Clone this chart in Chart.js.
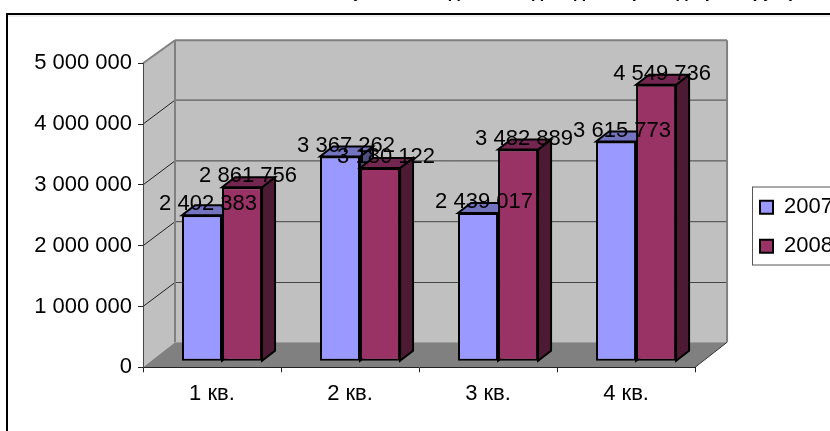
<!DOCTYPE html>
<html lang="ru">
<head>
<meta charset="utf-8">
<title>Chart</title>
<style>
    html, body { margin: 0; padding: 0; width: 830px; height: 431px; overflow: hidden; background: #fff; }
    #wrap { position: absolute; left: 0; top: -20px; }
</style>
</head>
<body>
<div id="wrap"><canvas id="chart" width="880" height="480"></canvas></div>
<script src="https://cdn.jsdelivr.net/npm/chart.js@4/dist/chart.umd.js"></script>
<script>
const categories = ['1 кв.', '2 кв.', '3 кв.', '4 кв.'];
const values2007 = [2402383, 3367262, 2439017, 3615773];
const values2008 = [2861756, 3180122, 3482889, 4549736];
const yTicksMax = 5000000;
const yTicksStep = 1000000;
// the title is cut off by the picture edge, only its descenders show: the wording is a guess
const titleText = 'Показатели налоговых выплат МСБ и сумма всех долгов и доходы бюро года (тыс. руб.)';

const FONT = 'Arial, "Liberation Sans", sans-serif';
const WALL = '#c0c0c0';
const FLOOR = '#808080';
const faces = [
    { top: '#7373bf', side: '#4d4d80' },
    { top: '#732650', side: '#4d1a33' }
];
// the wall depth and where the bars stand inside it, px
const DEPTH = { x: 32, y: 25 };
const BAR_SHIFT = { x: 10, y: 6 };
const BAR_DEPTH = { x: 13, y: 10 };

const fmt = (v) => String(v).replace(/\B(?=(\d{3})+$)/g, ' ');

function poly(ctx, pts, fill, stroke, width) {
    ctx.beginPath();
    pts.forEach((p, i) => (i ? ctx.lineTo(p[0], p[1]) : ctx.moveTo(p[0], p[1])));
    ctx.closePath();
    if (fill) { ctx.fillStyle = fill; ctx.fill(); }
    if (stroke) { ctx.strokeStyle = stroke; ctx.lineWidth = width; ctx.lineJoin = 'miter'; ctx.stroke(); }
}

function line(ctx, x1, y1, x2, y2, color, width) {
    ctx.beginPath();
    ctx.moveTo(x1, y1);
    ctx.lineTo(x2, y2);
    ctx.strokeStyle = color;
    ctx.lineWidth = width;
    ctx.stroke();
}

const chart3d = {
    id: 'chart3d',
    afterLayout(chart) {
        const legend = chart.legend;
        legend.left = 743;
        legend.right = 880;
        legend.top += 28;
        legend.bottom += 28;
    },
    beforeDraw(chart) {
        const { ctx, chartArea: a, scales: { y } } = chart;
        const dx = DEPTH.x, dy = DEPTH.y;
        ctx.save();

        // outer frame, runs off the right and bottom of the picture
        ctx.strokeStyle = '#000';
        ctx.lineWidth = 2;
        ctx.strokeRect(7, 34, 1000, 1000);
        line(ctx, 8, 36, 1000, 36, '#ddd', 1);

        poly(ctx, [[a.left, a.top], [a.left + dx, a.top - dy + 2], [a.left + dx, a.bottom - dy], [a.left, a.bottom]], WALL);
        poly(ctx, [[a.left + dx, a.top - dy + 2], [a.right + dx, a.top - dy + 2], [a.right + dx, a.bottom - dy], [a.left + dx, a.bottom - dy]], WALL);
        poly(ctx, [[a.left, a.bottom], [a.right, a.bottom], [a.right + dx, a.bottom - dy], [a.left + dx, a.bottom - dy]], FLOOR);

        for (let v = yTicksStep; v < yTicksMax; v += yTicksStep) {
            const py = y.getPixelForValue(v);
            line(ctx, a.left, py, a.left + dx, py - dy + 1, '#222', 1);
            line(ctx, a.left + dx, py - dy + 1, a.right + dx, py - dy + 1, '#444', 1);
        }
        // wall edges
        line(ctx, a.left, a.top, a.left + dx, a.top - dy + 2, FLOOR, 2);
        line(ctx, a.left + dx, a.top - dy + 2, a.right + dx, a.top - dy + 2, FLOOR, 2);
        line(ctx, a.left + dx, a.top - dy + 2, a.left + dx, a.bottom - dy, FLOOR, 2);
        line(ctx, a.right + dx, a.top - dy + 2, a.right + dx, a.bottom - dy, FLOOR, 2);
        line(ctx, a.right, a.bottom, a.right + dx, a.bottom - dy, '#333', 1);
        ctx.restore();
    },
    beforeDatasetsDraw(chart) {
        const { ctx } = chart;
        ctx.save();
        ctx.translate(BAR_SHIFT.x, -BAR_SHIFT.y);

        // first series first, so that its side goes behind the next bar
        [0, 1].forEach((i) => {
            const meta = chart.getDatasetMeta(i);
            meta.data.forEach((bar) => {
                const r = bar.x + bar.width / 2, l = bar.x - bar.width / 2;
                const ox = BAR_DEPTH.x, oy = BAR_DEPTH.y;
                poly(ctx, [[r, bar.y], [r + ox, bar.y - oy], [r + ox, bar.base - oy], [r, bar.base]], faces[i].side, '#000', 2);
                poly(ctx, [[l, bar.y], [l + ox, bar.y - oy], [r + ox, bar.y - oy], [r, bar.y]], faces[i].top, '#000', 2);
            });
            meta.controller.draw();
        });

        // value labels lie on top of everything
        ctx.fillStyle = '#000';
        ctx.font = '22px ' + FONT;
        ctx.textAlign = 'center';
        ctx.textBaseline = 'middle';
        [values2007, values2008].forEach((values, i) => {
            chart.getDatasetMeta(i).data.forEach((bar, k) => {
                ctx.fillText(fmt(values[k]), bar.x + 6, bar.y - 11);
            });
        });
        ctx.restore();
        return false;
    },
    afterDraw(chart) {
        const { ctx } = chart;
        ctx.save();
        ctx.strokeStyle = '#555';
        ctx.lineWidth = 1;
        ctx.strokeRect(752.5, 207, 200, 78);
        ctx.restore();
    }
};

new Chart(document.getElementById('chart'), {
    type: 'bar',
    data: {
        labels: categories,
        datasets: [
            { label: '2007', data: values2007, backgroundColor: '#9999ff', borderColor: '#000', borderWidth: 2, borderSkipped: false },
            { label: '2008', data: values2008, backgroundColor: '#993366', borderColor: '#000', borderWidth: 2, borderSkipped: false }
        ]
    },
    plugins: [chart3d],
    options: {
        responsive: false,
        animation: false,
        events: [],
        color: '#000',
        categoryPercentage: 0.58,
        barPercentage: 1,
        layout: { autoPadding: false, padding: { left: 0, top: 0, right: 85, bottom: 42.7 } },
        plugins: {
            tooltip: { enabled: false },
            title: {
                display: true,
                text: titleText,
                color: '#000',
                font: { family: FONT, size: 24, weight: 'bold' },
                padding: { top: -5, bottom: 59.5 }
            },
            legend: {
                position: 'right',
                labels: {
                    color: '#000',
                    boxWidth: 13,
                    boxHeight: 13,
                    padding: 17,
                    font: { family: FONT, size: 22 }
                }
            }
        },
        scales: {
            x: {
                afterFit(scale) { scale.height = 50; },
                grid: { drawOnChartArea: false, drawTicks: true, tickLength: 5, tickColor: '#222' },
                border: { color: '#222', width: 1 },
                ticks: { color: '#000', padding: 8, maxRotation: 0, font: { family: FONT, size: 22 } }
            },
            y: {
                min: 0,
                max: yTicksMax,
                afterFit(scale) { scale.width = 143; },
                grid: { drawOnChartArea: false, drawTicks: true, tickLength: 5, tickColor: '#222' },
                border: { color: '#444', width: 1 },
                ticks: {
                    stepSize: yTicksStep,
                    color: '#000',
                    padding: 6,
                    font: { family: FONT, size: 22 },
                    callback: (v) => fmt(v)
                }
            }
        }
    }
});
</script>
</body>
</html>
